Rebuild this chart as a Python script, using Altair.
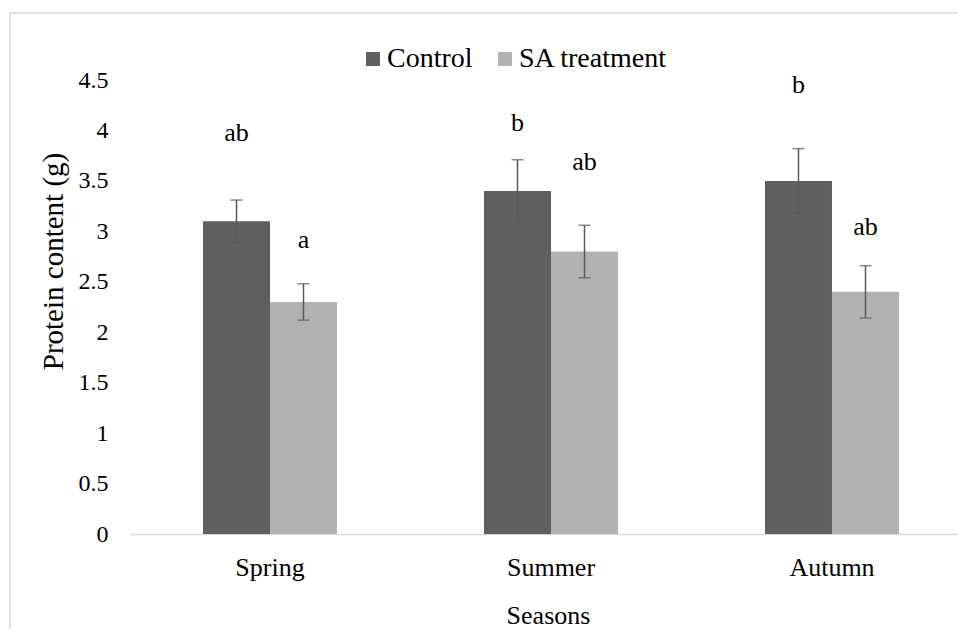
import altair as alt
import pandas as pd

seasons = ["Spring", "Summer", "Autumn"]
groups = ["Control", "SA treatment"]
control_vals = [3.1, 3.4, 3.5]
control_err = [0.21, 0.31, 0.32]
sa_vals = [2.3, 2.8, 2.4]
sa_err = [0.18, 0.26, 0.26]
control_letters = ["ab", "b", "b"]
sa_letters = ["a", "ab", "ab"]
control_letter_y = [3.90, 3.99, 4.37]
sa_letter_y = [2.83, 3.61, 2.96]
y_ticks = [0, 0.5, 1, 1.5, 2, 2.5, 3, 3.5, 4, 4.5]
colors = ["#5f5f5f", "#b2b2b2"]

rows = []
for i, s in enumerate(seasons):
    rows.append(dict(season=s, group="Control", value=control_vals[i],
                     lo=control_vals[i] - control_err[i], hi=control_vals[i] + control_err[i],
                     letter=control_letters[i], ly=control_letter_y[i]))
    rows.append(dict(season=s, group="SA treatment", value=sa_vals[i],
                     lo=sa_vals[i] - sa_err[i], hi=sa_vals[i] + sa_err[i],
                     letter=sa_letters[i], ly=sa_letter_y[i]))
df = pd.DataFrame(rows)

FONT = "Liberation Serif"
TXT = "#000000"
ERR = "#595959"

yscale = alt.Scale(domain=[0, 4.5], nice=False, zero=True)
xscale = alt.Scale(paddingInner=0.5231, paddingOuter=0.2349, align=0.553)
xoff = alt.XOffset("group:N", sort=groups, scale=alt.Scale(paddingInner=0, paddingOuter=0))

x_axis = alt.Axis(title="Seasons", labelAngle=0, ticks=False, grid=False,
                  domainColor="#d9d9d9", domainWidth=1.5,
                  labelFont=FONT, labelFontSize=26, labelColor=TXT, labelPadding=20,
                  titleFont=FONT, titleFontSize=26, titleFontWeight="normal", titleColor=TXT,
                  titleX=418, titleY=89, titleBaseline="alphabetic", titleAlign="center")
y_axis = alt.Axis(title="Protein content (g)", values=y_ticks, labelExpr="'' + datum.value",
                  domain=False, ticks=False, grid=False,
                  labelFont=FONT, labelFontSize=24, labelColor=TXT, labelPadding=22,
                  titleFont=FONT, titleFontSize=29, titleFontWeight="normal", titleColor=TXT,
                  titleX=-68, titleY=181, titleAngle=270, titleBaseline="alphabetic",
                  titleAlign="center")

xenc = alt.X("season:N", sort=seasons, scale=xscale, axis=x_axis)

base = alt.Chart(df)

bars = base.mark_bar().encode(
    x=xenc,
    xOffset=xoff,
    y=alt.Y("value:Q", scale=yscale, axis=y_axis),
    color=alt.Color("group:N", sort=groups,
                    scale=alt.Scale(domain=groups, range=colors),
                    legend=alt.Legend(title=None, orient="none", legendX=229, legendY=-35,
                                      direction="horizontal", symbolType="square",
                                      symbolSize=196, symbolStrokeWidth=0,
                                      labelFont=FONT, labelFontSize=28, labelColor=TXT,
                                      labelOffset=0, columnPadding=18, padding=0)),
)

rules = base.mark_rule(color=ERR, strokeWidth=1.5).encode(
    x=xenc, xOffset=xoff,
    y=alt.Y("lo:Q", scale=yscale, axis=y_axis),
    y2="hi:Q",
)
caps_lo = base.mark_tick(color=ERR, orient="horizontal", size=12, thickness=1.5).encode(
    x=xenc, xOffset=xoff,
    y=alt.Y("lo:Q", scale=yscale, axis=y_axis),
)
caps_hi = base.mark_tick(color=ERR, orient="horizontal", size=12, thickness=1.5).encode(
    x=xenc, xOffset=xoff,
    y=alt.Y("hi:Q", scale=yscale, axis=y_axis),
)
letters = base.mark_text(font=FONT, fontSize=26, color=TXT, baseline="alphabetic",
                         align="center").encode(
    x=xenc, xOffset=xoff,
    y=alt.Y("ly:Q", scale=yscale, axis=y_axis),
    text="letter:N",
)

border = alt.Chart(pd.DataFrame({"k": [0]})).mark_rect(
    fillOpacity=0, stroke="#d9d9d9", strokeWidth=1.5
).encode(x=alt.value(-120), x2=alt.value(900), y=alt.value(-67), y2=alt.value(620))

chart = alt.layer(bars, rules, caps_lo, caps_hi, letters, border).properties(
    width=828, height=454,
    autosize=alt.AutoSizeParams(type="none"),
    padding={"left": 130, "top": 80, "right": 0, "bottom": 95},
).configure(font=FONT).configure_view(strokeWidth=0)

chart.save("out.html", embed_options={"renderer": "svg", "actions": False})
